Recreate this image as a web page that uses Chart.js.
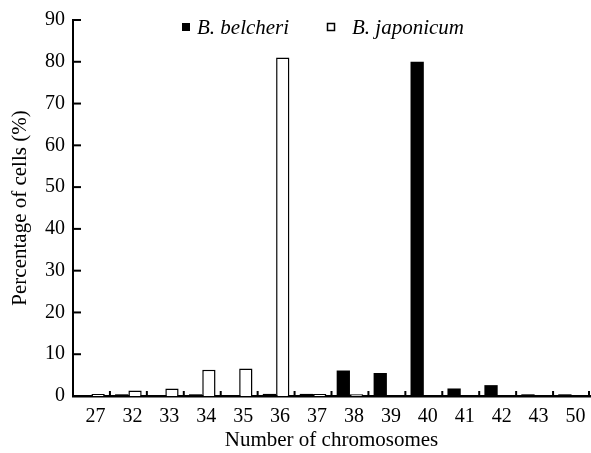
<!DOCTYPE html>
<html>
<head>
<meta charset="utf-8">
<script src="https://cdn.jsdelivr.net/npm/chart.js@4.4.1/dist/chart.umd.min.js"></script>
<style>
  html, body { margin: 0; padding: 0; background: #fff; }
  #wrap { width: 591px; height: 453px; }
</style>
</head>
<body>
<div id="wrap"><canvas id="chart"></canvas></div>
<script>
const chromosomes = ["27", "32", "33", "34", "35", "36", "37", "38", "39", "40", "41", "42", "43", "50"];
const belcheri = [0, 0.4, 0, 0.4, 0, 0.5, 0.5, 6.1, 5.5, 80.0, 1.8, 2.6, 0.4, 0.4];
const japonicum = [0.5, 1.3, 1.8, 6.3, 6.6, 81.0, 0.5, 0.4, 0, 0, 0, 0, 0, 0];
const yTicks = [0, 10, 20, 30, 40, 50, 60, 70, 80, 90];

const serif = '"Liberation Serif", "Times New Roman", serif';
Chart.defaults.font.family = serif;
Chart.defaults.color = "#000";

// inward tick marks + legend, drawn on top of the chart
const marksPlugin = {
  id: "marks",
  afterDraw(chart) {
    const ctx = chart.ctx;
    const area = chart.chartArea;
    const x = chart.scales.x;
    const y = chart.scales.y;
    ctx.save();
    ctx.strokeStyle = "#000";
    ctx.lineWidth = 2;

    // y ticks pointing right
    yTicks.forEach((v) => {
      if (v === 0) return;
      const py = y.getPixelForValue(v);
      ctx.beginPath();
      ctx.moveTo(area.left, py);
      ctx.lineTo(area.left + 8, py);
      ctx.stroke();
    });

    // x ticks at category boundaries, pointing up
    for (let i = 0; i < chromosomes.length; i++) {
      let px;
      if (i < chromosomes.length - 1) {
        px = (x.getPixelForValue(i) + x.getPixelForValue(i + 1)) / 2;
      } else {
        px = area.right - 1;
      }
      ctx.beginPath();
      ctx.moveTo(px, area.bottom);
      ctx.lineTo(px, area.bottom - 5);
      ctx.stroke();
    }

    // legend
    ctx.font = "italic 21px " + serif;
    ctx.textBaseline = "alphabetic";
    ctx.fillStyle = "#000";
    ctx.fillRect(182, 23, 8, 8);
    ctx.fillText("B. belcheri", 197, 34);
    ctx.lineWidth = 1.5;
    ctx.strokeRect(327.5, 23.5, 7, 7);
    ctx.fillText("B. japonicum", 352, 34);
    ctx.restore();
  },
};

new Chart(document.getElementById("chart"), {
  type: "bar",
  data: {
    labels: chromosomes,
    datasets: [
      {
        label: "B. belcheri",
        data: belcheri,
        backgroundColor: "#000",
        borderColor: "#000",
        borderWidth: 0,
      },
      {
        label: "B. japonicum",
        data: japonicum,
        backgroundColor: "#fff",
        borderColor: "#000",
        borderWidth: 1.5,
      },
    ],
  },
  options: {
    responsive: true,
    maintainAspectRatio: false,
    animation: false,
    layout: { padding: { top: 17, right: 1, left: 0, bottom: 0 } },
    datasets: {
      bar: { categoryPercentage: 0.72, barPercentage: 1.0 },
    },
    plugins: {
      legend: { display: false },
      tooltip: { enabled: false },
    },
    scales: {
      x: {
        grid: { display: false, drawTicks: false },
        border: { display: true, color: "#000", width: 2.5 },
        ticks: {
          padding: 9,
          labelOffset: 4,
          maxRotation: 0,
          autoSkip: false,
          font: { size: 20 },
          color: "#000",
        },
        title: {
          display: true,
          text: "Number of chromosomes",
          font: { size: 21 },
          color: "#000",
          padding: { top: 0, bottom: 0 },
        },
        afterFit(scale) {
          scale.height = 57;
        },
      },
      y: {
        min: 0,
        max: 90,
        grid: { display: false, drawTicks: false },
        border: { display: true, color: "#000", width: 2 },
        afterBuildTicks(scale) {
          scale.ticks = yTicks.map((v) => ({ value: v }));
        },
        ticks: {
          padding: 8,
          font: { size: 20 },
          color: "#000",
        },
        title: {
          display: true,
          text: "Percentage of cells (%)",
          font: { size: 21 },
          color: "#000",
          padding: { top: 8, bottom: 0 },
        },
        afterFit(scale) {
          scale.width = 73;
        },
      },
    },
  },
  plugins: [marksPlugin],
});
</script>
</body>
</html>
